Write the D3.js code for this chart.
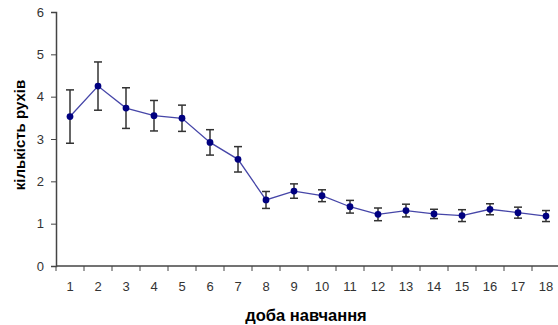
<!DOCTYPE html>
<html>
<head>
<meta charset="utf-8">
<script src="https://cdn.jsdelivr.net/npm/d3@7/dist/d3.min.js"></script>
<style>
  body { margin: 0; background: #fff; }
  svg { display: block; }
</style>
</head>
<body>
<svg id="chart"></svg>
<script>
// Data
const days = ["1","2","3","4","5","6","7","8","9","10","11","12","13","14","15","16","17","18"];
const means = [3.53, 4.25, 3.73, 3.55, 3.49, 2.92, 2.52, 1.56, 1.77, 1.66, 1.40, 1.22, 1.31, 1.23, 1.19, 1.34, 1.26, 1.18];
const errors = [0.63, 0.57, 0.48, 0.36, 0.31, 0.30, 0.30, 0.20, 0.17, 0.14, 0.15, 0.15, 0.15, 0.11, 0.14, 0.13, 0.13, 0.13];
const yTicks = [0, 1, 2, 3, 4, 5, 6];

const W = 558, H = 325;
const margin = { top: 12, right: 0, bottom: 59, left: 56 };
const width = 504;
const height = H - margin.top - margin.bottom;

const svg = d3.select("#chart").attr("width", W).attr("height", H);
const g = svg.append("g").attr("transform", `translate(${margin.left},${margin.top})`);

const x = d3.scaleBand().domain(days).range([0, width]).padding(0);
const y = d3.scaleLinear().domain([0, 6]).range([height, 0]);

// y axis
const yAxis = g.append("g")
  .call(d3.axisLeft(y).tickValues(yTicks).tickFormat(d3.format("d")).tickSize(5).tickPadding(7));
yAxis.select(".domain").attr("stroke", "#444").attr("stroke-width", 1.5);
yAxis.selectAll(".tick line").attr("stroke", "#444");
yAxis.selectAll("text")
  .attr("fill", "#333")
  .style("font-family", "Arial, 'Liberation Sans', sans-serif")
  .style("font-size", "13px");

// x axis, ticks between categories
const xAxis = g.append("g").attr("transform", `translate(0,${height})`);
xAxis.append("line")
  .attr("x1", 0).attr("x2", width)
  .attr("stroke", "#444").attr("stroke-width", 1.5);
xAxis.selectAll(".xt")
  .data(days)
  .enter()
  .append("line")
  .attr("class", "xt")
  .attr("x1", (d) => x(d)).attr("x2", (d) => x(d))
  .attr("y1", 0).attr("y2", 5)
  .attr("stroke", "#444");
xAxis.selectAll(".xl")
  .data(days)
  .enter()
  .append("text")
  .attr("class", "xl")
  .attr("x", (d) => x(d) + x.bandwidth() / 2)
  .attr("y", 25)
  .attr("text-anchor", "middle")
  .attr("fill", "#333")
  .style("font-family", "Arial, 'Liberation Sans', sans-serif")
  .style("font-size", "13px")
  .text((d) => d);

const cx = (i) => x(days[i]) + x.bandwidth() / 2;

// connecting line
const line = d3.line()
  .x((d, i) => cx(i))
  .y((d) => y(d));
g.append("path")
  .datum(means)
  .attr("d", line)
  .attr("fill", "none")
  .attr("stroke", "#4646a8")
  .attr("stroke-width", 1.3);

// error bars
const eb = g.selectAll(".eb")
  .data(means)
  .enter()
  .append("g")
  .attr("class", "eb")
  .attr("stroke", "#333")
  .attr("stroke-width", 1.5);
eb.append("line")
  .attr("x1", (d, i) => cx(i)).attr("x2", (d, i) => cx(i))
  .attr("y1", (d, i) => y(d + errors[i]))
  .attr("y2", (d, i) => y(d - errors[i]));
eb.append("line")
  .attr("x1", (d, i) => cx(i) - 4).attr("x2", (d, i) => cx(i) + 4)
  .attr("y1", (d, i) => y(d + errors[i]))
  .attr("y2", (d, i) => y(d + errors[i]));
eb.append("line")
  .attr("x1", (d, i) => cx(i) - 4).attr("x2", (d, i) => cx(i) + 4)
  .attr("y1", (d, i) => y(d - errors[i]))
  .attr("y2", (d, i) => y(d - errors[i]));

// markers
g.selectAll(".pt")
  .data(means)
  .enter()
  .append("path")
  .attr("class", "pt")
  .attr("d", d3.symbol().type(d3.symbolCircle).size(36))
  .attr("transform", (d, i) => `translate(${cx(i)},${y(d)})`)
  .attr("fill", "#000080");

// axis titles
svg.append("text")
  .attr("transform", "translate(25,135) rotate(-90)")
  .attr("text-anchor", "middle")
  .style("font-family", "Arial, 'Liberation Sans', sans-serif")
  .style("font-size", "15px")
  .style("font-weight", "bold")
  .attr("fill", "#000")
  .text("кількість рухів");

svg.append("text")
  .attr("x", 306)
  .attr("y", 321)
  .attr("text-anchor", "middle")
  .style("font-family", "Arial, 'Liberation Sans', sans-serif")
  .style("font-size", "16.5px")
  .style("font-weight", "bold")
  .attr("fill", "#000")
  .text("доба навчання");
</script>
</body>
</html>
